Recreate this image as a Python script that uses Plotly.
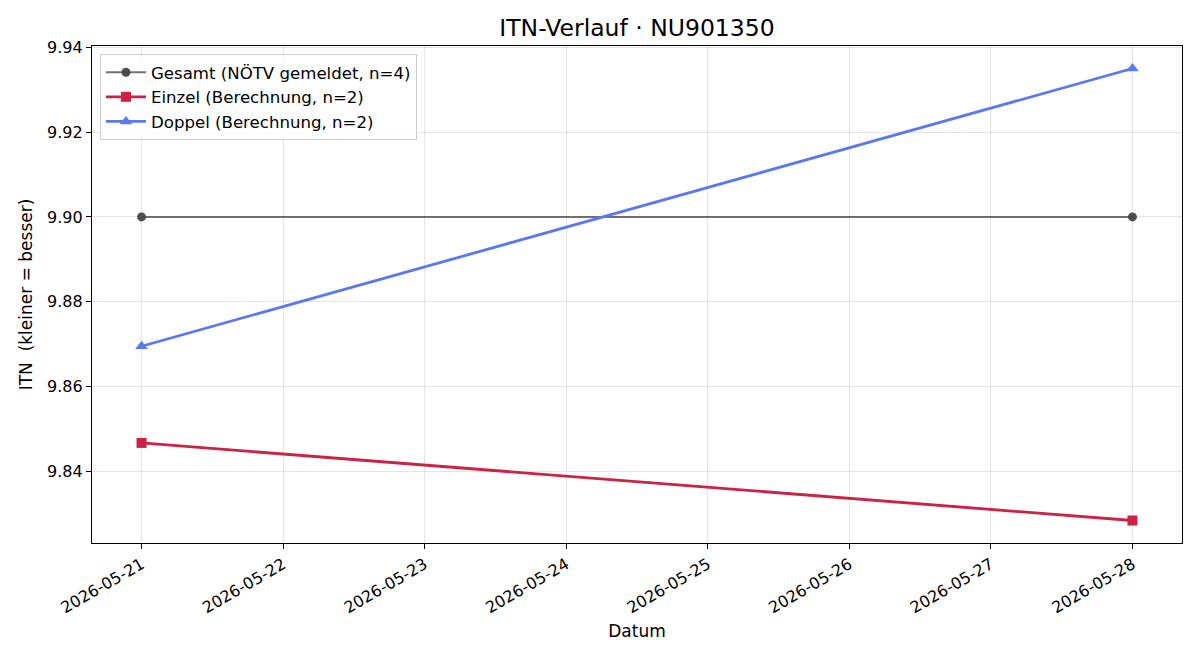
import plotly.graph_objects as go

dates = ["2026-05-21", "2026-05-28"]
gesamt = [9.900, 9.900]
einzel = [9.8467, 9.8284]
doppel = [9.8695, 9.9350]
y_ticks = [9.84, 9.86, 9.88, 9.90, 9.92, 9.94]
x_ticks = ["2026-05-21", "2026-05-22", "2026-05-23", "2026-05-24",
           "2026-05-25", "2026-05-26", "2026-05-27", "2026-05-28"]

font = "DejaVu Sans"
fig = go.Figure()
fig.add_trace(go.Scatter(
    x=dates, y=gesamt, mode="lines+markers", name="Gesamt (NÖTV gemeldet, n=4)",
    line=dict(color="rgba(68,68,68,0.75)", width=2),
    marker=dict(symbol="circle", size=9, color="rgba(68,68,68,0.95)")))
fig.add_trace(go.Scatter(
    x=dates, y=einzel, mode="lines+markers", name="Einzel (Berechnung, n=2)",
    line=dict(color="#cc2244", width=2.8),
    marker=dict(symbol="square", size=10, color="#cc2244")))
fig.add_trace(go.Scatter(
    x=dates, y=doppel, mode="lines+markers", name="Doppel (Berechnung, n=2)",
    line=dict(color="#5a78f0", width=2.8),
    marker=dict(symbol="triangle-up", size=11, color="#5a78f0")))

axis_common = dict(
    showline=True, linecolor="black", linewidth=1.2, mirror=True,
    ticks="outside", ticklen=5, tickcolor="black",
    showgrid=True, gridcolor="rgba(0,0,0,0.1)", gridwidth=1,
    zeroline=False, tickfont=dict(family=font, size=16, color="black"),
)

fig.update_layout(
    width=1200, height=660,
    margin=dict(l=92, r=18, t=46, b=117),
    paper_bgcolor="white", plot_bgcolor="white",
    font=dict(family=font, color="black"),
    title=dict(text="ITN-Verlauf · NU901350", x=0.5, xanchor="center", xref="paper",
               y=1 - 28 / 660, yanchor="middle",
               font=dict(family=font, size=23.5, color="black")),
    xaxis=dict(
        **axis_common, type="date",
        range=["2026-05-20 15:36", "2026-05-28 08:24"],
        tickvals=x_ticks, ticktext=x_ticks, tickangle=-30,
        title=dict(text="Datum", font=dict(family=font, size=17), standoff=8),
    ),
    yaxis=dict(
        **axis_common,
        range=[9.8231, 9.9403],
        tickvals=y_ticks, ticktext=[f"{v:.2f}" for v in y_ticks],
        title=dict(text="ITN  (kleiner = besser)", font=dict(family=font, size=17), standoff=10),
    ),
    legend=dict(
        x=0.0073, y=0.984, xanchor="left", yanchor="top",
        bgcolor="rgba(255,255,255,0.8)", bordercolor="#cccccc", borderwidth=1,
        font=dict(family=font, size=16.6, color="black"),
        itemwidth=40, tracegroupgap=0,
    ),
    showlegend=True,
)

fig.write_html("out.html")
